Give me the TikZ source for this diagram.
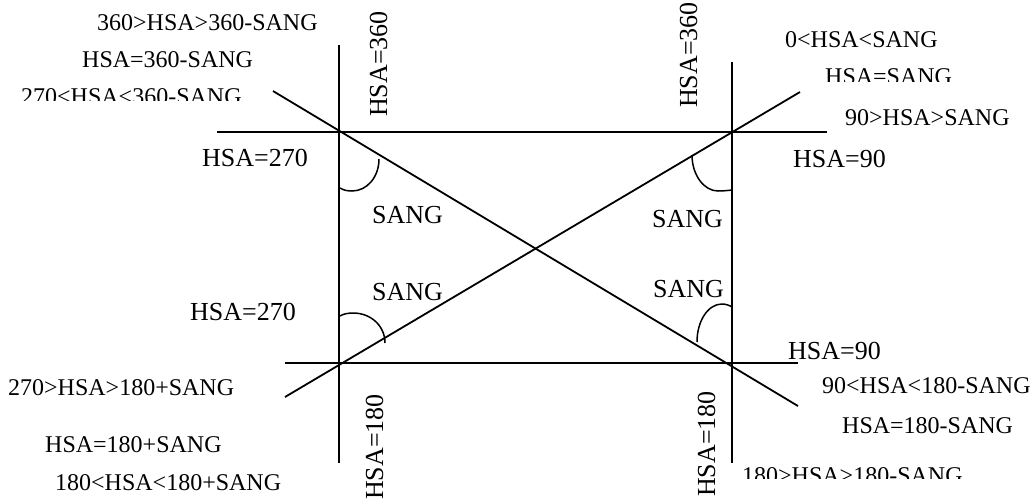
\documentclass[tikz,border=0pt]{standalone}
\usepackage{fontspec}
\setmainfont{Liberation Serif}
\begin{document}
\begin{tikzpicture}[x=1pt,y=-1pt,
  ln/.style={line width=1.8pt},
  ang/.style={line width=1.5pt},
  big/.style={font=\fontsize{26}{30}\selectfont, inner sep=0pt, anchor=base west},
  sml/.style={font=\fontsize{24}{28}\selectfont, inner sep=0pt, anchor=base west}]
\useasboundingbox (0,0) rectangle (1035,501);
% frame lines
\draw[ln] (339,45) -- (339,463);
\draw[ln] (732,62) -- (732,463);
\draw[ln] (217,132) -- (827,132);
\draw[ln] (285,363) -- (798,363);
\draw[ln] (273,91) -- (798,406);
\draw[ln] (285,397) -- (800,92);
% angle arcs
\draw[ang] (340,188) .. controls (344,190.5) and (348,191) .. (352,191)
  .. controls (367,191) and (379,177) .. (379,159);
\draw[ang] (692,155) .. controls (692,175) and (704,191) .. (718,191)
  .. controls (723,191) and (728,190.5) .. (732,190);
\draw[ang] (340,316) .. controls (343,314) and (348,313) .. (353,313)
  .. controls (371,313) and (385,326) .. (385,343);
\draw[ang] (732,307) .. controls (729,305) and (725,304) .. (722,304)
  .. controls (708,304) and (697,321) .. (697,342);
% labels
\node[sml] (t1) at (97,30) {360>HSA>360-SANG};
\node[sml] (t2) at (82,67) {HSA=360-SANG};
\begin{scope}
\clip (0,0) rectangle (300,100);
\node[sml] (t3) at (21,104) {270<HSA<360-SANG};
\end{scope}
\node[big] (t4) at (202,166) {HSA=270};
\node[sml] (t5) at (785,47) {0<HSA<SANG};
\begin{scope}
\clip (780,0) rectangle (1035,81);
\node[sml] (t6) at (825,84) {HSA=SANG};
\end{scope}
\node[sml] (t7) at (845,125) {90>HSA>SANG};
\node[big] (t8) at (793,167) {HSA=90};
\node[big] (s1) at (372,223) {SANG};
\node[big] (s2) at (652,227) {SANG};
\node[big] (s3) at (372,300) {SANG};
\node[big] (s4) at (653,297) {SANG};
\node[big] (b1) at (190,320) {HSA=270};
\node[sml] (b2) at (8,395) {270>HSA>180+SANG};
\node[sml] (b3) at (45,452) {HSA=180+SANG};
\node[sml] (b4) at (55,490) {180<HSA<180+SANG};
\node[big] (b5) at (788,359) {HSA=90};
\node[sml] (b6) at (822,393) {90<HSA<180-SANG};
\node[sml] (b7) at (842,433) {HSA=180-SANG};
\begin{scope}
\clip (735,440) rectangle (1035,478);
\node[sml] (b8) at (742,483) {180>HSA>180-SANG};
\end{scope}
% rotated labels
\node[big, rotate=90] (r1) at (387,117) {HSA=360};
\node[big, rotate=90] (r2) at (697,108) {HSA=360};
\node[big, rotate=90] (r3) at (383,500) {HSA=180};
\node[big, rotate=90] (r4) at (715,497) {HSA=180};
\end{tikzpicture}
\end{document}
